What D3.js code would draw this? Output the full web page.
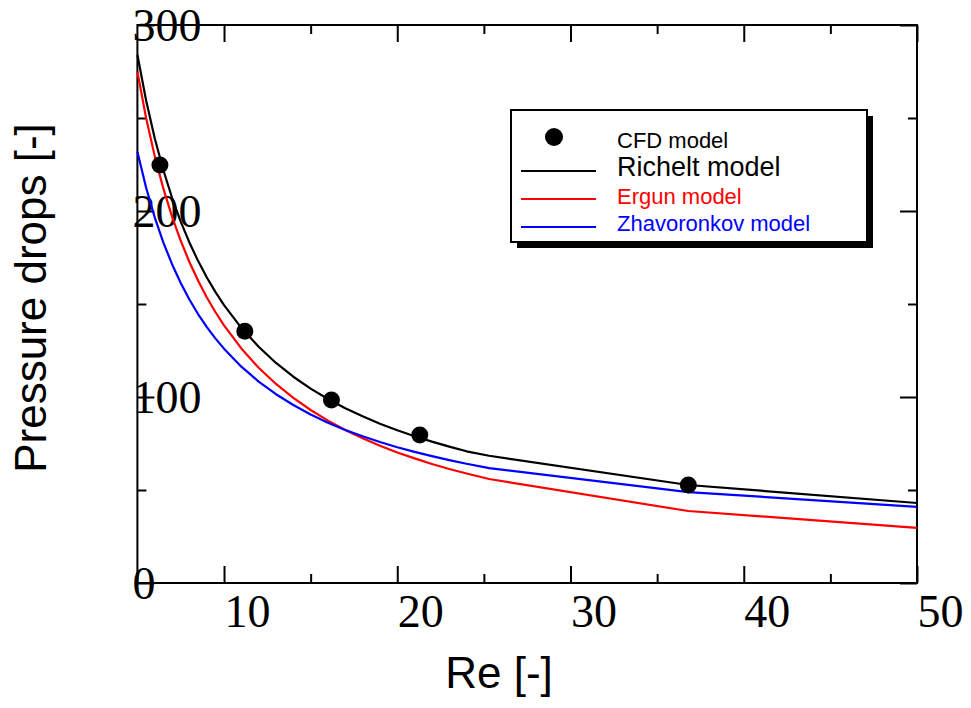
<!DOCTYPE html>
<html>
<head>
<meta charset="utf-8">
<script src="https://cdn.jsdelivr.net/npm/d3@7"></script>
<style>
  html, body { margin: 0; padding: 0; background: #fff; }
  svg { display: block; }
</style>
</head>
<body>
<svg id="chart" width="971" height="708"></svg>
<script>
// ---- Data ----
const reGrid = [5, 5.5, 6, 6.5, 7, 7.5, 8, 8.5, 9, 9.5, 10, 11, 12, 13, 14, 15, 16, 17, 18, 19, 20, 21, 22, 23, 24, 25.3, 36.8, 50];
const richelt = [284.0, 259.5, 239.1, 221.9, 207.1, 194.3, 183.1, 173.2, 164.4, 156.5, 149.4, 137.2, 127.0, 118.3, 110.9, 104.5, 98.9, 94.0, 89.6, 85.6, 82.1, 78.9, 76.0, 73.3, 70.8, 68.4, 52.7, 43.0];
const ergun = [274.9, 250.1, 229.5, 212.0, 197.0, 184.0, 172.6, 162.6, 153.6, 145.7, 138.5, 126.1, 115.7, 107.0, 99.5, 93.0, 87.3, 82.3, 77.8, 73.8, 70.2, 67.0, 64.0, 61.3, 58.9, 55.9, 38.7, 29.6];
const zhavoronkov = [231.9, 212.6, 196.6, 183.0, 171.4, 161.3, 152.4, 144.6, 137.7, 131.5, 126.0, 116.3, 108.3, 101.5, 95.7, 90.6, 86.2, 82.3, 78.9, 75.8, 73.0, 70.5, 68.2, 66.1, 64.1, 61.8, 48.9, 40.9];
const cfdRe = [6.3, 11.2, 16.2, 21.3, 36.8];
const cfdDp = [224.7, 135.3, 98.4, 79.6, 52.7];

const xMajor = [10, 20, 30, 40, 50];
const xMinor = [15, 25, 35, 45];
const yMajor = [0, 100, 200, 300];
const yMinor = [50, 150, 250];

const seriesNames = ["CFD model", "Richelt model", "Ergun model", "Zhavoronkov model"];
const seriesColors = ["#000000", "#000000", "#ff0000", "#0000ff"];

// ---- Layout ----
const L = 137.4, R = 917, T = 25, B = 583;
const x = d3.scaleLinear().domain([5, 50]).range([L, R]);
const y = d3.scaleLinear().domain([0, 300]).range([B, T]);

const svg = d3.select("#chart");
const serif = "'Liberation Serif', 'Times New Roman', serif";
const sans = "'Liberation Sans', Arial, sans-serif";

function styleAxis(g) {
  g.select(".domain").remove();
  g.selectAll(".tick line").attr("stroke", "#000").attr("stroke-width", 2);
}

// bottom major
const gB = svg.append("g").attr("transform", `translate(0,${B})`)
  .call(d3.axisBottom(x).tickValues(xMajor).tickSize(-17).tickFormat(d3.format("d")));
styleAxis(gB);
gB.selectAll(".tick text")
  .attr("text-anchor", "start").attr("x", 0).attr("y", 44).attr("dy", null)
  .attr("font-family", serif).attr("font-size", 46).attr("fill", "#000");
svg.append("g").attr("transform", `translate(0,${B})`)
  .call(d3.axisBottom(x).tickValues(xMinor).tickSize(-9).tickFormat(""))
  .call(styleAxis);
// top
svg.append("g").attr("transform", `translate(0,${T})`)
  .call(d3.axisTop(x).tickValues(xMajor).tickSize(-17).tickFormat("")).call(styleAxis);
svg.append("g").attr("transform", `translate(0,${T})`)
  .call(d3.axisTop(x).tickValues(xMinor).tickSize(-9).tickFormat("")).call(styleAxis);
// left
const gL = svg.append("g").attr("transform", `translate(${L},0)`)
  .call(d3.axisLeft(y).tickValues(yMajor).tickSize(-17).tickFormat(d3.format("d")));
styleAxis(gL);
gL.selectAll(".tick text")
  .attr("text-anchor", "start").attr("x", -5).attr("y", 15).attr("dy", null)
  .attr("font-family", serif).attr("font-size", 46).attr("fill", "#000");
svg.append("g").attr("transform", `translate(${L},0)`)
  .call(d3.axisLeft(y).tickValues(yMinor).tickSize(-9).tickFormat("")).call(styleAxis);
// right
svg.append("g").attr("transform", `translate(${R},0)`)
  .call(d3.axisRight(y).tickValues(yMajor).tickSize(-17).tickFormat("")).call(styleAxis);
svg.append("g").attr("transform", `translate(${R},0)`)
  .call(d3.axisRight(y).tickValues(yMinor).tickSize(-9).tickFormat("")).call(styleAxis);

// frame
svg.append("rect").attr("x", L).attr("y", T).attr("width", R - L).attr("height", B - T)
  .attr("fill", "none").attr("stroke", "#000").attr("stroke-width", 2);

// axis titles
svg.append("text").attr("x", 499).attr("y", 688).attr("text-anchor", "middle")
  .attr("font-family", sans).attr("font-size", 44).text("Re [-]");
svg.append("text").attr("transform", "translate(46,298) rotate(-90)").attr("text-anchor", "middle")
  .attr("font-family", sans).attr("font-size", 44).text("Pressure drops [-]");

// curves
const line = d3.line().x(d => x(d[0])).y(d => y(d[1]));
[[richelt, seriesColors[1]], [ergun, seriesColors[2]], [zhavoronkov, seriesColors[3]]].forEach(([vals, col]) => {
  svg.append("path").datum(reGrid.map((r, i) => [r, vals[i]]))
    .attr("d", line).attr("fill", "none").attr("stroke", col).attr("stroke-width", 2.2)
    .attr("stroke-linejoin", "round");
});

// CFD points
svg.append("g").selectAll("circle").data(cfdRe.map((r, i) => [r, cfdDp[i]])).join("circle")
  .attr("cx", d => x(d[0])).attr("cy", d => y(d[1])).attr("r", 8.5).attr("fill", "#000");

// legend
const lg = svg.append("g");
lg.append("rect").attr("x", 517).attr("y", 116).attr("width", 356).attr("height", 132).attr("fill", "#000");
lg.append("rect").attr("x", 511).attr("y", 110).attr("width", 356).attr("height", 132)
  .attr("fill", "#fff").attr("stroke", "#000").attr("stroke-width", 2);
lg.append("circle").attr("cx", 554).attr("cy", 137).attr("r", 9).attr("fill", "#000");
const lineYs = [null, 171, 199, 227];
const textYs = [148, 176, 204, 231];
const textSizes = [22, 27, 22, 22];
seriesNames.forEach((name, i) => {
  if (lineYs[i] !== null) {
    lg.append("line").attr("x1", 521).attr("x2", 596).attr("y1", lineYs[i]).attr("y2", lineYs[i])
      .attr("stroke", seriesColors[i]).attr("stroke-width", 2);
  }
  lg.append("text").attr("x", 617).attr("y", textYs[i]).attr("font-family", sans)
    .attr("font-size", textSizes[i]).attr("fill", seriesColors[i]).text(name);
});
</script>
</body>
</html>
